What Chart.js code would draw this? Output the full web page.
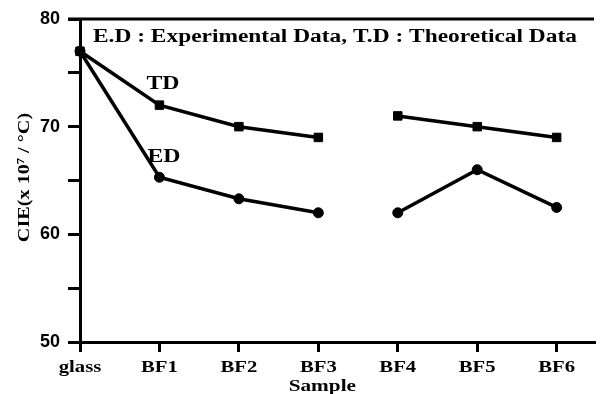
<!DOCTYPE html>
<html>
<head>
<meta charset="utf-8">
<script src="https://cdn.jsdelivr.net/npm/chart.js@4.4.1/dist/chart.umd.min.js"></script>
<style>
  html, body { margin: 0; padding: 0; background: #fff; }
  #wrap { width: 601px; height: 394px; }
</style>
</head>
<body>
<div id="wrap"><canvas id="cteChart" width="601" height="394"></canvas></div>
<script>
const categories = ['glass', 'BF1', 'BF2', 'BF3', 'BF4', 'BF5', 'BF6'];
const tdValues = [77, 72, 70, 69, 71, 70, 69];
const edValues = [77, 65.3, 63.3, 62, 62, 66, 62.5];
const yTicks = [50, 60, 70, 80];
const breakAfter = 3; // no line between BF3 and BF4

const serif = '"Liberation Serif", "Times New Roman", serif';

// the source figure's serif text is horizontally stretched
function wideText(ctx, text, x, y, sx, align) {
  ctx.save();
  ctx.translate(x, y);
  ctx.scale(sx, 1);
  ctx.textAlign = align;
  ctx.fillText(text, 0, 0);
  ctx.restore();
}

const toPoints = vals => vals.map((v, i) => ({ x: i, y: v }));

const annotations = {
  id: 'annotations',
  afterDraw(chart) {
    const { ctx, chartArea, scales } = chart;
    ctx.save();
    // top frame line
    ctx.strokeStyle = '#000';
    ctx.lineWidth = 3;
    ctx.beginPath();
    ctx.moveTo(chartArea.left - 12, chartArea.top);
    ctx.lineTo(chartArea.right, chartArea.top);
    ctx.stroke();

    ctx.fillStyle = '#000';
    ctx.textBaseline = 'alphabetic';
    ctx.font = 'bold 18px ' + serif;
    wideText(ctx, 'E.D : Experimental Data, T.D : Theoretical Data', chartArea.left + 13, chartArea.top + 23, 1.3, 'left');

    const x1 = scales.x.getPixelForValue(1);
    wideText(ctx, 'TD', x1 - 13, scales.y.getPixelForValue(73.5), 1.32, 'left');
    wideText(ctx, 'ED', x1 - 12, scales.y.getPixelForValue(66.7), 1.32, 'left');

    // category labels
    ctx.font = 'bold 17px ' + serif;
    categories.forEach((c, i) => {
      wideText(ctx, c, scales.x.getPixelForValue(i), 372, 1.22, 'center');
    });

    // axis titles
    const xc = (scales.x.getPixelForValue(0) + scales.x.getPixelForValue(categories.length - 1)) / 2;
    wideText(ctx, 'Sample', xc + 4, 391, 1.25, 'center');

    ctx.save();
    ctx.translate(29, (chartArea.top + chartArea.bottom) / 2 - 3);
    ctx.rotate(-Math.PI / 2);
    ctx.font = 'bold 17px ' + serif;
    wideText(ctx, 'CIE(x 10\u2077 / \u00B0C)', 0, 0, 1.19, 'center');
    ctx.restore();

    ctx.restore();
  }
};

const segStyle = {
  borderColor: c => c.p0DataIndex === breakAfter ? 'rgba(0,0,0,0)' : '#000'
};

new Chart(document.getElementById('cteChart'), {
  type: 'line',
  data: {
    datasets: [
      {
        label: 'TD',
        data: toPoints(tdValues),
        borderColor: '#000',
        backgroundColor: '#000',
        borderWidth: 3.5,
        pointStyle: 'rect',
        pointRadius: 6,
        pointBorderWidth: 1,
        segment: segStyle,
        clip: false
      },
      {
        label: 'ED',
        data: toPoints(edValues),
        borderColor: '#000',
        backgroundColor: '#000',
        borderWidth: 3.5,
        pointStyle: 'circle',
        pointRadius: 5,
        pointBorderWidth: 1,
        segment: segStyle,
        clip: false
      }
    ]
  },
  options: {
    responsive: false,
    animation: false,
    layout: { padding: { top: 19, right: 0, left: 0, bottom: 0 } },
    plugins: { legend: { display: false }, tooltip: { enabled: false } },
    scales: {
      x: {
        type: 'linear',
        min: 0,
        max: 6.47,
        afterBuildTicks: s => { s.ticks = categories.map((_, i) => ({ value: i })); },
        afterFit: s => { s.height = 52; },
        border: { color: '#000', width: 3 },
        grid: { drawOnChartArea: false, color: '#000', lineWidth: 3, tickLength: 10 },
        ticks: { display: false }
      },
      y: {
        min: 50,
        max: 80,
        afterBuildTicks: s => {
          const t = [];
          for (let v = yTicks[0]; v <= yTicks[yTicks.length - 1]; v += 5) t.push({ value: v });
          s.ticks = t;
        },
        afterFit: s => { s.width = 80; },
        border: { color: '#000', width: 3 },
        grid: { drawOnChartArea: false, color: '#000', lineWidth: 3, tickLength: 12 },
        ticks: {
          color: '#000',
          padding: 8,
          font: { family: '"Liberation Sans", Arial, sans-serif', size: 18, weight: 'bold' },
          callback: v => yTicks.includes(v) ? String(v) : ''
        }
      }
    }
  },
  plugins: [annotations]
});
</script>
</body>
</html>
